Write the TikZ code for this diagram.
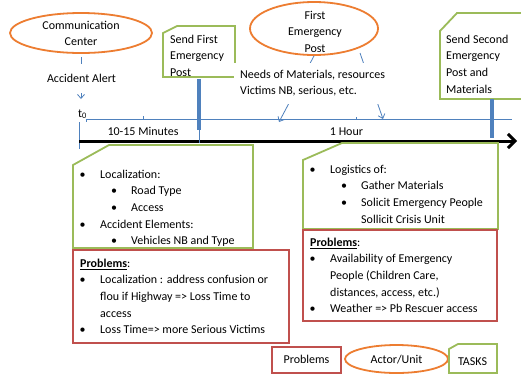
\documentclass[tikz,border=0pt]{standalone}
\usepackage{fontspec}
\setmainfont{Carlito}
\usetikzlibrary{arrows.meta,shapes.geometric}
\definecolor{ora}{RGB}{237,125,49}
\definecolor{grn}{RGB}{155,187,89}
\definecolor{rd}{RGB}{192,80,77}
\definecolor{blu}{RGB}{79,129,189}
\newcommand\ia{\strut\makebox[27bp][l]{\hspace{6.5bp}\textbullet}}
\newcommand\ib{\strut\makebox[58bp][l]{\hspace{38bp}\textbullet}}
\newcommand\ic{\strut\hspace*{27bp}}
\newcommand\id{\strut\hspace*{58bp}}
\newcommand\probhead{\strut\hspace*{7bp}\underline{\textbf{Problems}}:}
\begin{document}
\begin{tikzpicture}[x=1bp,y=-1bp,
  txt/.style={font=\fontsize{12bp}{16.6bp}\selectfont, inner sep=0, align=left},
  actor/.style={ellipse, draw=ora, line width=1.8bp, inner sep=0},
  task/.style={draw=grn, line width=1.8bp},
  prob/.style={draw=rd, line width=1.8bp},
  thinblue/.style={draw=blu, line width=0.8bp},
  bar/.style={draw=blu, line width=3.4bp},
  barb/.style={-{Straight Barb[length=4bp,width=7bp]}}]
\fill[white] (0,0) rectangle (521,374);
\useasboundingbox (0,0) rectangle (521,374);

% ellipses (actors)
\node[actor, minimum width=142bp, minimum height=40bp] (cc) at (81,33) {};
\node[txt, align=center] (cct) at (81,34) {\strut Communication\\\strut Center};
\node[actor, minimum width=128bp, minimum height=53bp] (fep) at (314,28.5) {};
\node[txt, align=center] (fept) at (315,32.3) {\strut First\\\strut Emergency\\\strut Post};

% send first box
\draw[task] (163,33) -- (177,26) -- (235,26) -- (235,77) -- (163,77) -- cycle;
\node[txt, anchor=north west] (s1t) at (170,31.4) {\strut Send First\\\strut Emergency\\\strut Post};
% send second box
\draw[task] (440,31) -- (457,13) -- (524,13) -- (524,99) -- (440,99) -- cycle;
\node[txt, anchor=north west] (s2t) at (446,31.4) {\strut Send Second\\\strut Emergency\\\strut Post and\\\strut Materials};

% timeline
\coordinate (tlS) at (86,119);
\coordinate (tlE) at (512,119);
\draw[thinblue] (tlS) -- (tlE);
\draw[thinblue] (tlS) -- ++(0,3);
\coordinate (tk1) at (143,119);
\coordinate (tk2) at (356,119);
\draw[thinblue] (tk1) -- ++(0,-3);
\draw[thinblue] (tk2) -- ++(0,-2);
\coordinate (v0a) at (79,122);
\coordinate (v0b) at (79,149);
\draw[thinblue] (v0a) -- (v0b);
\coordinate (arS) at (79,141);
\coordinate (arE) at (517,141);
\draw[line width=3bp, -{Straight Barb[length=7bp,width=14bp]}] (arS) -- (arE);

% bars
\coordinate (b1top) at (199,79);
\coordinate (b1bot) at (199,130);
\coordinate (b1end) at (199,143);
\draw[bar] (b1top) -- (b1bot);
\draw[thinblue] (b1bot) -- (b1end);
\coordinate (b2top) at (492,99);
\coordinate (b2bot) at (492,138);
\draw[bar] (b2top) -- (b2bot);

% t0 and alert
\node[txt, anchor=base west] (t0) at (78,117) {t\textsubscript{0}};
\coordinate (alertTip) at (81,99);
\draw[thinblue, barb, shorten <=3bp] (cc.south) -- (alertTip);
\node[txt, fill=white, inner xsep=2bp, inner ysep=6bp] (alert) at (81.5,78.7) {\strut Accident Alert};

% needs arrows
\coordinate (a1) at (279,122);
\coordinate (a2s) at (360,53);
\coordinate (a2) at (383,119);
\draw[thinblue, barb] (fep.south) -- (a1);
\draw[thinblue, barb] (a2s) -- (a2);
\node[txt, anchor=north west, fill=white, inner xsep=6bp, inner ysep=4bp] (needs) at (234,62.4) {\strut Needs of Materials, resources\\\strut Victims NB, serious, etc.};

% durations
\node[txt] (m1) at (143,131.7) {\strut 10-15 Minutes};
\node[txt] (h1) at (346.5,131.7) {\strut 1 Hour};

% left task box
\draw[task] (73,165) -- (109,145) -- (253,145) -- (253,248) -- (73,248) -- cycle;
\node[txt, anchor=north west] (ltl) at (73,166.4) {\ia Localization:\\\ib Road Type\\\ib Access\\\ia Accident Elements:\\\ib Vehicles NB and Type};
% left problems
\draw[prob] (73,250) rectangle (289,343);
\node[txt, anchor=north west] (lpl) at (73,255.4) {\probhead\\\ia Localization : address confusion or\\\ic flou if Highway => Loss Time to\\\ic access\\\ia Loss Time=> more Serious Victims};

% right task box
\draw[task] (303,160) -- (342,143) -- (498,143) -- (498,229) -- (303,229) -- cycle;
\node[txt, anchor=north west] (rtl) at (303,161.4) {\ia Logistics of:\\\ib Gather Materials\\\ib Solicit Emergency People\\\id Sollicit Crisis Unit};
% right problems
\draw[prob] (303,230) rectangle (497,321);
\node[txt, anchor=north west] (rpl) at (303,234.4) {\probhead\\\ia Availability of Emergency\\\ic People (Children Care,\\\ic distances, access, etc.)\\\ia Weather => Pb Rescuer access};

% legend
\draw[prob] (272,347) rectangle (341,373);
\node[txt] (lgp) at (306.5,359.7) {\strut Problems};
\node[actor, minimum width=103bp, minimum height=28bp] (lga) at (396.5,359) {};
\node[txt] (lgat) at (396.5,359.7) {\strut Actor/Unit};
\draw[task] (449,349) -- (458,344) -- (497,344) -- (497,373) -- (449,373) -- cycle;
\node[txt] (lgt) at (472.5,361.7) {\strut TASKS};
\end{tikzpicture}
\end{document}
